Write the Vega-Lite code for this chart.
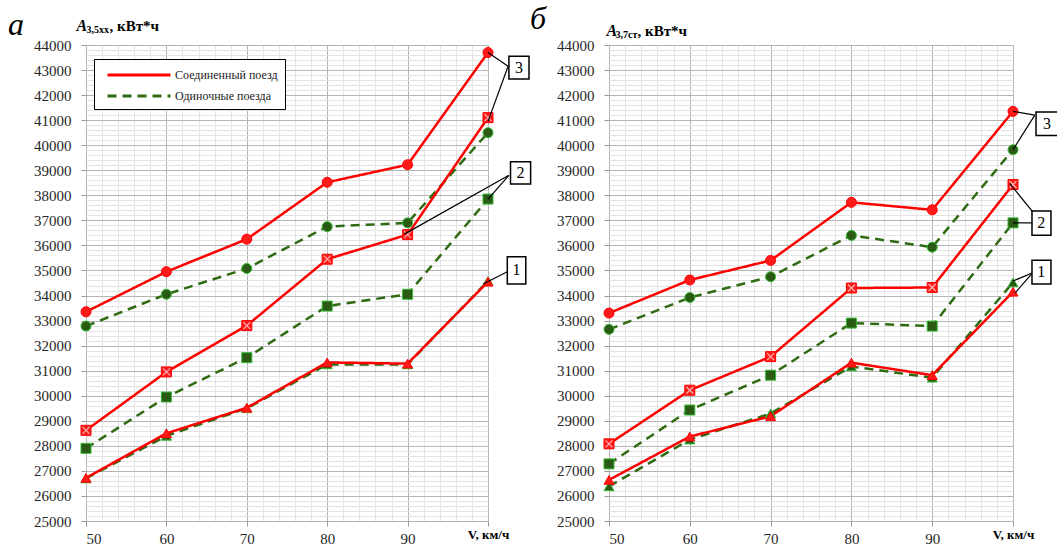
{
  "$schema": "https://vega.github.io/schema/vega-lite/v6.json",
  "background": "white",
  "padding": {"left": 8, "top": 3, "right": 0, "bottom": 0},
  "bounds": "flush",
  "spacing": 121,
  "config": {"view": {"stroke": null}, "font": "Liberation Serif, Times New Roman, serif"},
  "datasets": {
    "a": [
      {"type": "Одиночные поезда", "series": "3", "v": 50, "A": 32780},
      {"type": "Одиночные поезда", "series": "3", "v": 60, "A": 34050},
      {"type": "Одиночные поезда", "series": "3", "v": 70, "A": 35080},
      {"type": "Одиночные поезда", "series": "3", "v": 80, "A": 36750},
      {"type": "Одиночные поезда", "series": "3", "v": 90, "A": 36900},
      {"type": "Одиночные поезда", "series": "3", "v": 100, "A": 40500},
      {"type": "Одиночные поезда", "series": "2", "v": 50, "A": 27900},
      {"type": "Одиночные поезда", "series": "2", "v": 60, "A": 29950},
      {"type": "Одиночные поезда", "series": "2", "v": 70, "A": 31520},
      {"type": "Одиночные поезда", "series": "2", "v": 80, "A": 33580},
      {"type": "Одиночные поезда", "series": "2", "v": 90, "A": 34050},
      {"type": "Одиночные поезда", "series": "2", "v": 100, "A": 37850},
      {"type": "Одиночные поезда", "series": "1", "v": 50, "A": 26700},
      {"type": "Одиночные поезда", "series": "1", "v": 60, "A": 28400},
      {"type": "Одиночные поезда", "series": "1", "v": 70, "A": 29500},
      {"type": "Одиночные поезда", "series": "1", "v": 80, "A": 31250},
      {"type": "Одиночные поезда", "series": "1", "v": 90, "A": 31250},
      {"type": "Одиночные поезда", "series": "1", "v": 100, "A": 34580},
      {"type": "Соединенный поезд", "series": "3", "v": 50, "A": 33350},
      {"type": "Соединенный поезд", "series": "3", "v": 60, "A": 34950},
      {"type": "Соединенный поезд", "series": "3", "v": 70, "A": 36250},
      {"type": "Соединенный поезд", "series": "3", "v": 80, "A": 38520},
      {"type": "Соединенный поезд", "series": "3", "v": 90, "A": 39220},
      {"type": "Соединенный поезд", "series": "3", "v": 100, "A": 43700},
      {"type": "Соединенный поезд", "series": "2", "v": 50, "A": 28620},
      {"type": "Соединенный поезд", "series": "2", "v": 60, "A": 30950},
      {"type": "Соединенный поезд", "series": "2", "v": 70, "A": 32800},
      {"type": "Соединенный поезд", "series": "2", "v": 80, "A": 35450},
      {"type": "Соединенный поезд", "series": "2", "v": 90, "A": 36430},
      {"type": "Соединенный поезд", "series": "2", "v": 100, "A": 41100},
      {"type": "Соединенный поезд", "series": "1", "v": 50, "A": 26720},
      {"type": "Соединенный поезд", "series": "1", "v": 60, "A": 28500},
      {"type": "Соединенный поезд", "series": "1", "v": 70, "A": 29520},
      {"type": "Соединенный поезд", "series": "1", "v": 80, "A": 31330},
      {"type": "Соединенный поезд", "series": "1", "v": 90, "A": 31280},
      {"type": "Соединенный поезд", "series": "1", "v": 100, "A": 34550}
    ],
    "b": [
      {"type": "Одиночные поезда", "series": "3", "v": 50, "A": 32650},
      {"type": "Одиночные поезда", "series": "3", "v": 60, "A": 33920},
      {"type": "Одиночные поезда", "series": "3", "v": 70, "A": 34750},
      {"type": "Одиночные поезда", "series": "3", "v": 80, "A": 36400},
      {"type": "Одиночные поезда", "series": "3", "v": 90, "A": 35930},
      {"type": "Одиночные поезда", "series": "3", "v": 100, "A": 39820},
      {"type": "Одиночные поезда", "series": "2", "v": 50, "A": 27280},
      {"type": "Одиночные поезда", "series": "2", "v": 60, "A": 29430},
      {"type": "Одиночные поезда", "series": "2", "v": 70, "A": 30820},
      {"type": "Одиночные поезда", "series": "2", "v": 80, "A": 32900},
      {"type": "Одиночные поезда", "series": "2", "v": 90, "A": 32780},
      {"type": "Одиночные поезда", "series": "2", "v": 100, "A": 36900},
      {"type": "Одиночные поезда", "series": "1", "v": 50, "A": 26380},
      {"type": "Одиночные поезда", "series": "1", "v": 60, "A": 28250},
      {"type": "Одиночные поезда", "series": "1", "v": 70, "A": 29290},
      {"type": "Одиночные поезда", "series": "1", "v": 80, "A": 31170},
      {"type": "Одиночные поезда", "series": "1", "v": 90, "A": 30720},
      {"type": "Одиночные поезда", "series": "1", "v": 100, "A": 34520},
      {"type": "Соединенный поезд", "series": "3", "v": 50, "A": 33300},
      {"type": "Соединенный поезд", "series": "3", "v": 60, "A": 34620},
      {"type": "Соединенный поезд", "series": "3", "v": 70, "A": 35400},
      {"type": "Соединенный поезд", "series": "3", "v": 80, "A": 37720},
      {"type": "Соединенный поезд", "series": "3", "v": 90, "A": 37420},
      {"type": "Соединенный поезд", "series": "3", "v": 100, "A": 41350},
      {"type": "Соединенный поезд", "series": "2", "v": 50, "A": 28080},
      {"type": "Соединенный поезд", "series": "2", "v": 60, "A": 30220},
      {"type": "Соединенный поезд", "series": "2", "v": 70, "A": 31560},
      {"type": "Соединенный поезд", "series": "2", "v": 80, "A": 34300},
      {"type": "Соединенный поезд", "series": "2", "v": 90, "A": 34320},
      {"type": "Соединенный поезд", "series": "2", "v": 100, "A": 38430},
      {"type": "Соединенный поезд", "series": "1", "v": 50, "A": 26640},
      {"type": "Соединенный поезд", "series": "1", "v": 60, "A": 28370},
      {"type": "Соединенный поезд", "series": "1", "v": 70, "A": 29180},
      {"type": "Соединенный поезд", "series": "1", "v": 80, "A": 31320},
      {"type": "Соединенный поезд", "series": "1", "v": 90, "A": 30820},
      {"type": "Соединенный поезд", "series": "1", "v": 100, "A": 34150}
    ],
    "ca_boxes": [
      {"n": "3", "xa": 102.6, "xb": 105.1, "ya": 43550, "yb": 42640, "tx": 103.85, "ty": 43095},
      {"n": "2", "xa": 102.8, "xb": 105.3, "ya": 39340, "yb": 38450, "tx": 104.05, "ty": 38895},
      {"n": "1", "xa": 102.4, "xb": 104.7, "ya": 35550, "yb": 34460, "tx": 103.55, "ty": 35005}
    ],
    "ca_lines": [
      {"xa": 102.5, "ya": 43150, "xb": 100, "yb": 43700},
      {"xa": 102.5, "ya": 43150, "xb": 100, "yb": 40950},
      {"xa": 102.6, "ya": 38800, "xb": 100, "yb": 37850},
      {"xa": 102.6, "ya": 38800, "xb": 89.6, "yb": 36450},
      {"xa": 102.4, "ya": 34950, "xb": 99.4, "yb": 34460}
    ],
    "cb_boxes": [
      {"n": "3", "xa": 102.85, "xb": 105.6, "ya": 41330, "yb": 40390, "tx": 104.2, "ty": 40860},
      {"n": "2", "xa": 102.35, "xb": 104.7, "ya": 37370, "yb": 36410, "tx": 103.5, "ty": 36890},
      {"n": "1", "xa": 102.35, "xb": 104.7, "ya": 35410, "yb": 34460, "tx": 103.5, "ty": 34935}
    ],
    "cb_lines": [
      {"xa": 102.7, "ya": 41200, "xb": 100, "yb": 41350},
      {"xa": 102.7, "ya": 41200, "xb": 100, "yb": 39820},
      {"xa": 102.45, "ya": 37340, "xb": 99.6, "yb": 38470},
      {"xa": 102.35, "ya": 36900, "xb": 100, "yb": 36900},
      {"xa": 102.45, "ya": 34910, "xb": 100, "yb": 34580},
      {"xa": 102.45, "ya": 34910, "xb": 100.25, "yb": 34100}
    ]
  },
  "hconcat": [
    {
      "width": 402,
      "height": 476,
      "title": {"text": "а", "anchor": "start", "frame": "group", "dx": -78, "dy": 25, "fontSize": 32, "fontStyle": "italic", "fontWeight": "normal", "font": "Liberation Serif, Times New Roman, serif", "color": "#000", "offset": 0},
      "resolve": {"axis": {"x": "independent", "y": "independent"}},
      "layer": [
        {
          "data": {"name": "a"},
          "mark": {"type": "line", "strokeWidth": 2.5},
          "encoding": {
            "x": {"field": "v", "type": "quantitative", "scale": {"domain": [50, 100], "nice": false, "zero": false},
                  "axis": {"orient": "bottom", "grid": true, "gridColor": "#e3e3e3", "tickCount": 25, "labels": false, "ticks": false, "domain": false, "title": null}},
            "y": {"field": "A", "type": "quantitative", "scale": {"domain": [25000, 44000], "nice": false, "zero": false},
                  "axis": {"orient": "left", "grid": true, "gridColor": "#e3e3e3", "tickCount": 95, "labels": false, "ticks": false, "domain": false,
                           "title": "A", "titleAngle": 0, "titleX": -10, "titleY": -20, "titleAlign": "left", "titleBaseline": "middle", "titleFont": "Liberation Serif, Times New Roman, serif", "titleFontSize": 16, "titleFontStyle": "italic", "titleFontWeight": "bold", "titleColor": "#000"}},
            "color": {"field": "type", "type": "nominal", "scale": {"domain": ["Соединенный поезд", "Одиночные поезда"], "range": ["#ff0000", "#2f6b12"]},
                      "legend": {"orient": "none", "legendX": 8, "legendY": 14, "title": null, "symbolType": "M-4.2,0H4.2", "symbolSize": 225, "symbolOffset": 29, "symbolStrokeWidth": 3, "labelFont": "Liberation Serif, Times New Roman, serif", "labelFontSize": 12, "labelColor": "#222", "strokeColor": "#000", "fillColor": "#fff", "padding": 7, "rowPadding": 6, "labelOffset": 27}},
            "strokeDash": {"field": "type", "type": "nominal", "scale": {"domain": ["Соединенный поезд", "Одиночные поезда"], "range": [[1, 0], [9, 6]]},
                      "legend": {"orient": "none", "legendX": 8, "legendY": 14, "title": null, "symbolType": "M-4.2,0H4.2", "symbolSize": 225, "symbolOffset": 29, "symbolStrokeWidth": 3, "labelFont": "Liberation Serif, Times New Roman, serif", "labelFontSize": 12, "labelColor": "#222", "strokeColor": "#000", "fillColor": "#fff", "padding": 7, "rowPadding": 6, "labelOffset": 27}},
            "detail": {"field": "series", "type": "nominal"}
          }
        },
        {
          "data": {"name": "a"},
          "mark": {"type": "point", "filled": true, "size": 100, "strokeWidth": 1, "opacity": 1},
          "encoding": {
            "x": {"field": "v", "type": "quantitative", "scale": {"domain": [50, 100], "nice": false, "zero": false},
                  "axis": {"orient": "bottom", "grid": true, "gridColor": "#b4b4b4", "values": [50, 60, 70, 80, 90, 100], "labelExpr": "datum.value == 100 ? '' : datum.label", "tickSize": 5, "tickColor": "#999", "domain": false, "labelFont": "Liberation Serif, Times New Roman, serif", "labelFontSize": 15, "labelColor": "#262626", "labelPadding": 5,
                           "title": "V, км/ч", "titleX": 402, "titleY": 13, "titleAlign": "center", "titleBaseline": "middle", "titleFont": "Liberation Serif, Times New Roman, serif", "titleFontSize": 13, "titleFontWeight": "bold", "titleColor": "#000"}},
            "y": {"field": "A", "type": "quantitative", "scale": {"domain": [25000, 44000], "nice": false, "zero": false},
                  "axis": {"orient": "left", "grid": true, "gridColor": "#b4b4b4", "tickCount": 19, "format": "d", "tickSize": 5, "tickColor": "#999", "domain": false, "labelFont": "Liberation Serif, Times New Roman, serif", "labelFontSize": 15, "labelColor": "#262626", "labelPadding": 10,
                           "title": "3,5хх", "titleAngle": 0, "titleX": 0, "titleY": -16, "titleAlign": "left", "titleBaseline": "middle", "titleFont": "Liberation Serif, Times New Roman, serif", "titleFontSize": 10, "titleFontWeight": "bold", "titleColor": "#000"}},
            "shape": {"field": "series", "type": "nominal", "scale": {"domain": ["1", "2", "3"], "range": ["triangle-up", "square", "circle"]}, "legend": null},
            "fill": {"field": "type", "type": "nominal", "scale": {"domain": ["Соединенный поезд", "Одиночные поезда"], "range": ["#ff1a1a", "#2a5a14"]}, "legend": null},
            "stroke": {"field": "type", "type": "nominal", "scale": {"domain": ["Соединенный поезд", "Одиночные поезда"], "range": ["#ff0000", "#33bb33"]}, "legend": null}
          }
        },
        {
          "data": {"name": "a"},
          "transform": [{"filter": "datum.type == 'Соединенный поезд' && datum.series == '2'"}],
          "mark": {"type": "point", "shape": "M-0.7,-0.7L0.7,0.7M-0.7,0.7L0.7,-0.7", "filled": false, "stroke": "#ffb3b3", "strokeWidth": 1.2, "size": 100, "opacity": 1},
          "encoding": {
            "x": {"field": "v", "type": "quantitative", "scale": {"domain": [50, 100], "nice": false, "zero": false}, "axis": null},
            "y": {"field": "A", "type": "quantitative", "scale": {"domain": [25000, 44000], "nice": false, "zero": false},
                  "axis": {"orient": "left", "grid": false, "labels": false, "ticks": false, "domain": false,
                           "title": ", кВт*ч", "titleAngle": 0, "titleX": 23, "titleY": -20, "titleAlign": "left", "titleBaseline": "middle", "titleFont": "Liberation Serif, Times New Roman, serif", "titleFontSize": 15, "titleFontWeight": "bold", "titleColor": "#000"}}
          }
        },
        {
          "data": {"name": "ca_lines"},
          "mark": {"type": "rule", "color": "#000", "strokeWidth": 1.2},
          "encoding": {
            "x": {"field": "xa", "type": "quantitative", "scale": {"domain": [50, 100], "nice": false, "zero": false}, "axis": null},
            "y": {"field": "ya", "type": "quantitative", "scale": {"domain": [25000, 44000], "nice": false, "zero": false}, "axis": null},
            "x2": {"field": "xb"},
            "y2": {"field": "yb"}
          }
        },
        {
          "data": {"name": "ca_boxes"},
          "mark": {"type": "rect", "fill": "#fff", "stroke": "#000", "strokeWidth": 1.5},
          "encoding": {
            "x": {"field": "xa", "type": "quantitative", "scale": {"domain": [50, 100], "nice": false, "zero": false}, "axis": null},
            "y": {"field": "ya", "type": "quantitative", "scale": {"domain": [25000, 44000], "nice": false, "zero": false}, "axis": null},
            "x2": {"field": "xb"},
            "y2": {"field": "yb"}
          }
        },
        {
          "data": {"name": "ca_boxes"},
          "mark": {"type": "text", "font": "Liberation Serif, Times New Roman, serif", "fontSize": 16, "align": "center", "baseline": "middle", "color": "#000"},
          "encoding": {
            "x": {"field": "tx", "type": "quantitative", "scale": {"domain": [50, 100], "nice": false, "zero": false}, "axis": null},
            "y": {"field": "ty", "type": "quantitative", "scale": {"domain": [25000, 44000], "nice": false, "zero": false}, "axis": null},
            "text": {"field": "n"}
          }
        }
      ]
    },
    {
      "width": 404,
      "height": 476,
      "title": {"text": "б", "anchor": "start", "frame": "group", "dx": -79, "dy": 14, "fontSize": 32, "fontStyle": "italic", "fontWeight": "normal", "font": "Liberation Serif, Times New Roman, serif", "color": "#000", "offset": 0},
      "resolve": {"axis": {"x": "independent", "y": "independent"}},
      "layer": [
        {
          "data": {"name": "b"},
          "mark": {"type": "line", "strokeWidth": 2.5},
          "encoding": {
            "x": {"field": "v", "type": "quantitative", "scale": {"domain": [50, 100], "nice": false, "zero": false},
                  "axis": {"orient": "bottom", "grid": true, "gridColor": "#e3e3e3", "tickCount": 25, "labels": false, "ticks": false, "domain": false, "title": null}},
            "y": {"field": "A", "type": "quantitative", "scale": {"domain": [25000, 44000], "nice": false, "zero": false},
                  "axis": {"orient": "left", "grid": true, "gridColor": "#e3e3e3", "tickCount": 95, "labels": false, "ticks": false, "domain": false,
                           "title": "A", "titleAngle": 0, "titleX": -3, "titleY": -15, "titleAlign": "left", "titleBaseline": "middle", "titleFont": "Liberation Serif, Times New Roman, serif", "titleFontSize": 16, "titleFontStyle": "italic", "titleFontWeight": "bold", "titleColor": "#000"}},
            "color": {"field": "type", "type": "nominal", "scale": {"domain": ["Соединенный поезд", "Одиночные поезда"], "range": ["#ff0000", "#2f6b12"]},
                      "legend": {"orient": "none", "legendX": 18, "legendY": 20, "title": null, "symbolType": "M-4.2,0H4.2", "symbolSize": 225, "symbolOffset": 29, "symbolStrokeWidth": 3, "labelFont": "Liberation Serif, Times New Roman, serif", "labelFontSize": 12, "labelColor": "#222", "strokeColor": "#000", "fillColor": "#fff", "padding": 7, "rowPadding": 6, "labelOffset": 27}},
            "strokeDash": {"field": "type", "type": "nominal", "scale": {"domain": ["Соединенный поезд", "Одиночные поезда"], "range": [[1, 0], [9, 6]]},
                      "legend": {"orient": "none", "legendX": 18, "legendY": 20, "title": null, "symbolType": "M-4.2,0H4.2", "symbolSize": 225, "symbolOffset": 29, "symbolStrokeWidth": 3, "labelFont": "Liberation Serif, Times New Roman, serif", "labelFontSize": 12, "labelColor": "#222", "strokeColor": "#000", "fillColor": "#fff", "padding": 7, "rowPadding": 6, "labelOffset": 27}},
            "detail": {"field": "series", "type": "nominal"}
          }
        },
        {
          "data": {"name": "b"},
          "mark": {"type": "point", "filled": true, "size": 100, "strokeWidth": 1, "opacity": 1},
          "encoding": {
            "x": {"field": "v", "type": "quantitative", "scale": {"domain": [50, 100], "nice": false, "zero": false},
                  "axis": {"orient": "bottom", "grid": true, "gridColor": "#b4b4b4", "values": [50, 60, 70, 80, 90, 100], "labelExpr": "datum.value == 100 ? '' : datum.label", "tickSize": 5, "tickColor": "#999", "domain": false, "labelFont": "Liberation Serif, Times New Roman, serif", "labelFontSize": 15, "labelColor": "#262626", "labelPadding": 5,
                           "title": "V, км/ч", "titleX": 404, "titleY": 13, "titleAlign": "center", "titleBaseline": "middle", "titleFont": "Liberation Serif, Times New Roman, serif", "titleFontSize": 13, "titleFontWeight": "bold", "titleColor": "#000"}},
            "y": {"field": "A", "type": "quantitative", "scale": {"domain": [25000, 44000], "nice": false, "zero": false},
                  "axis": {"orient": "left", "grid": true, "gridColor": "#b4b4b4", "tickCount": 19, "format": "d", "tickSize": 5, "tickColor": "#999", "domain": false, "labelFont": "Liberation Serif, Times New Roman, serif", "labelFontSize": 15, "labelColor": "#262626", "labelPadding": 10,
                           "title": "3,7ст", "titleAngle": 0, "titleX": 6, "titleY": -11, "titleAlign": "left", "titleBaseline": "middle", "titleFont": "Liberation Serif, Times New Roman, serif", "titleFontSize": 10, "titleFontWeight": "bold", "titleColor": "#000"}},
            "shape": {"field": "series", "type": "nominal", "scale": {"domain": ["1", "2", "3"], "range": ["triangle-up", "square", "circle"]}, "legend": null},
            "fill": {"field": "type", "type": "nominal", "scale": {"domain": ["Соединенный поезд", "Одиночные поезда"], "range": ["#ff1a1a", "#2a5a14"]}, "legend": null},
            "stroke": {"field": "type", "type": "nominal", "scale": {"domain": ["Соединенный поезд", "Одиночные поезда"], "range": ["#ff0000", "#33bb33"]}, "legend": null}
          }
        },
        {
          "data": {"name": "b"},
          "transform": [{"filter": "datum.type == 'Соединенный поезд' && datum.series == '2'"}],
          "mark": {"type": "point", "shape": "M-0.7,-0.7L0.7,0.7M-0.7,0.7L0.7,-0.7", "filled": false, "stroke": "#ffb3b3", "strokeWidth": 1.2, "size": 100, "opacity": 1},
          "encoding": {
            "x": {"field": "v", "type": "quantitative", "scale": {"domain": [50, 100], "nice": false, "zero": false}, "axis": null},
            "y": {"field": "A", "type": "quantitative", "scale": {"domain": [25000, 44000], "nice": false, "zero": false},
                  "axis": {"orient": "left", "grid": false, "labels": false, "ticks": false, "domain": false,
                           "title": ", кВт*ч", "titleAngle": 0, "titleX": 28, "titleY": -15, "titleAlign": "left", "titleBaseline": "middle", "titleFont": "Liberation Serif, Times New Roman, serif", "titleFontSize": 15, "titleFontWeight": "bold", "titleColor": "#000"}}
          }
        },
        {
          "data": {"name": "cb_lines"},
          "mark": {"type": "rule", "color": "#000", "strokeWidth": 1.2},
          "encoding": {
            "x": {"field": "xa", "type": "quantitative", "scale": {"domain": [50, 100], "nice": false, "zero": false}, "axis": null},
            "y": {"field": "ya", "type": "quantitative", "scale": {"domain": [25000, 44000], "nice": false, "zero": false}, "axis": null},
            "x2": {"field": "xb"},
            "y2": {"field": "yb"}
          }
        },
        {
          "data": {"name": "cb_boxes"},
          "mark": {"type": "rect", "fill": "#fff", "stroke": "#000", "strokeWidth": 1.5},
          "encoding": {
            "x": {"field": "xa", "type": "quantitative", "scale": {"domain": [50, 100], "nice": false, "zero": false}, "axis": null},
            "y": {"field": "ya", "type": "quantitative", "scale": {"domain": [25000, 44000], "nice": false, "zero": false}, "axis": null},
            "x2": {"field": "xb"},
            "y2": {"field": "yb"}
          }
        },
        {
          "data": {"name": "cb_boxes"},
          "mark": {"type": "text", "font": "Liberation Serif, Times New Roman, serif", "fontSize": 16, "align": "center", "baseline": "middle", "color": "#000"},
          "encoding": {
            "x": {"field": "tx", "type": "quantitative", "scale": {"domain": [50, 100], "nice": false, "zero": false}, "axis": null},
            "y": {"field": "ty", "type": "quantitative", "scale": {"domain": [25000, 44000], "nice": false, "zero": false}, "axis": null},
            "text": {"field": "n"}
          }
        }
      ]
    }
  ]
}
